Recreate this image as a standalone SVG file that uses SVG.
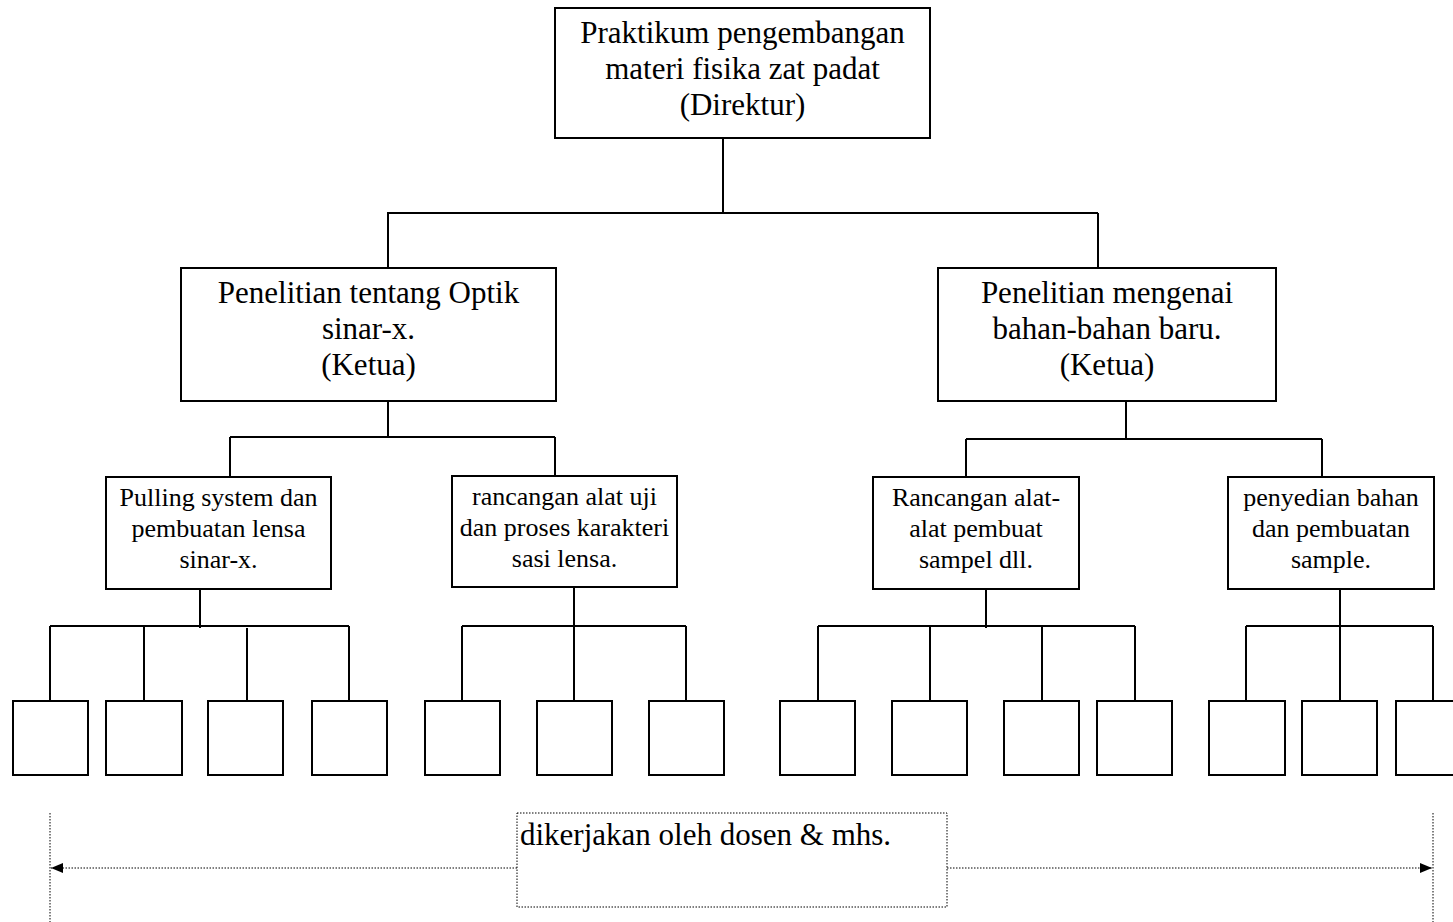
<svg xmlns="http://www.w3.org/2000/svg" width="1453" height="922" viewBox="0 0 1453 922">
<style>
.box{fill:#fff;stroke:#000;stroke-width:2}
.ln{fill:none;stroke:#000;stroke-width:2}
.dot{fill:none;stroke:#000;stroke-width:1;stroke-dasharray:1.5 1.5}
.t31{font-family:"Liberation Serif","Times New Roman",serif;font-size:31px;fill:#000;text-anchor:middle}
.t26{font-family:"Liberation Serif","Times New Roman",serif;font-size:26px;fill:#000;text-anchor:middle}
.tl{font-family:"Liberation Serif","Times New Roman",serif;font-size:31px;fill:#000}
</style>
<defs>
<marker id="ah" viewBox="0 0 12 12" refX="12" refY="6" markerWidth="12" markerHeight="12" markerUnits="userSpaceOnUse" orient="auto">
<path d="M0,1 L12,6 L0,11 Z" fill="#000"/>
</marker>
</defs>
<rect width="1453" height="922" fill="#fff"/>
<g id="connectors">
<path class="ln" d="M723,138 V213 M387,213 H1098 M388,213 V268 M1098,213 V268"/>
<path class="ln" d="M388,401 V437 M230,437 H555 M230,437 V477 M555,437 V476"/>
<path class="ln" d="M1126,401 V439 M966,439 H1322 M966,439 V477 M1322,439 V477"/>
<path class="ln" d="M200,589 V628 M50,626 H349 M50,626 V701 M144,626 V701 M247,628 V703 M349,626 V701 M13,701 H50 M349,701 H387"/>
<path class="ln" d="M574,587 V626 M462,626 H686 M462,626 V701 M574,626 V701 M686,626 V701 M425,701 H462 M686,701 H724"/>
<path class="ln" d="M986,589 V628 M818,626 H1135 M818,626 V701 M930,626 V701 M1042,626 V701 M1135,626 V701 M780,701 H818 M1135,701 H1172"/>
<path class="ln" d="M1340,589 V626 M1246,626 H1433 M1246,626 V701 M1340,626 V701 M1433,626 V701 M1209,701 H1246 M1433,701 H1471"/>
<path class="dot" d="M50,813 V922 M1433,813 V922"/>
<path class="dot" d="M517,868 H51" marker-end="url(#ah)"/>
<path class="dot" d="M947,868 H1432" marker-end="url(#ah)"/>
</g>
<g id="n-top">
<rect class="box" x="555" y="8" width="375" height="130"/>
<text class="t31" x="742.5" y="43">Praktikum pengembangan</text>
<text class="t31" x="742.5" y="79">materi fisika zat padat</text>
<text class="t31" x="742.5" y="115">(Direktur)</text>
</g>
<g id="n-optik">
<rect class="box" x="181" y="268" width="375" height="133"/>
<text class="t31" x="368.5" y="303">Penelitian tentang Optik</text>
<text class="t31" x="368.5" y="339">sinar-x.</text>
<text class="t31" x="368.5" y="375">(Ketua)</text>
</g>
<g id="n-bahan">
<rect class="box" x="938" y="268" width="338" height="133"/>
<text class="t31" x="1107" y="303">Penelitian mengenai</text>
<text class="t31" x="1107" y="339">bahan-bahan baru.</text>
<text class="t31" x="1107" y="375">(Ketua)</text>
</g>
<g id="n-pulling">
<rect class="box" x="106" y="477" width="225" height="112"/>
<text class="t26" x="218.5" y="506">Pulling system dan</text>
<text class="t26" x="218.5" y="537">pembuatan lensa</text>
<text class="t26" x="218.5" y="568">sinar-x.</text>
</g>
<g id="n-rancangan-uji">
<rect class="box" x="452" y="476" width="225" height="111"/>
<text class="t26" x="564.5" y="505">rancangan alat uji</text>
<text class="t26" x="564.5" y="536">dan proses karakteri</text>
<text class="t26" x="564.5" y="567">sasi lensa.</text>
</g>
<g id="n-rancangan-alat">
<rect class="box" x="873" y="477" width="206" height="112"/>
<text class="t26" x="976" y="506">Rancangan alat-</text>
<text class="t26" x="976" y="537">alat pembuat</text>
<text class="t26" x="976" y="568">sampel dll.</text>
</g>
<g id="n-penyedian">
<rect class="box" x="1228" y="477" width="206" height="112"/>
<text class="t26" x="1331" y="506">penyedian bahan</text>
<text class="t26" x="1331" y="537">dan pembuatan</text>
<text class="t26" x="1331" y="568">sample.</text>
</g>
<g id="leaves">
<rect class="box" x="13" y="701" width="75" height="74"/>
<rect class="box" x="106" y="701" width="76" height="74"/>
<rect class="box" x="208" y="701" width="75" height="74"/>
<rect class="box" x="312" y="701" width="75" height="74"/>
<rect class="box" x="425" y="701" width="75" height="74"/>
<rect class="box" x="537" y="701" width="75" height="74"/>
<rect class="box" x="649" y="701" width="75" height="74"/>
<rect class="box" x="780" y="701" width="75" height="74"/>
<rect class="box" x="892" y="701" width="75" height="74"/>
<rect class="box" x="1004" y="701" width="75" height="74"/>
<rect class="box" x="1097" y="701" width="75" height="74"/>
<rect class="box" x="1209" y="701" width="76" height="74"/>
<rect class="box" x="1302" y="701" width="75" height="74"/>
<rect class="box" x="1396" y="701" width="75" height="74"/>
</g>
<g id="n-label">
<rect class="dot" x="517" y="813" width="430" height="94"/>
<text class="tl" x="520" y="845">dikerjakan oleh dosen &amp; mhs.</text>
</g>
</svg>
